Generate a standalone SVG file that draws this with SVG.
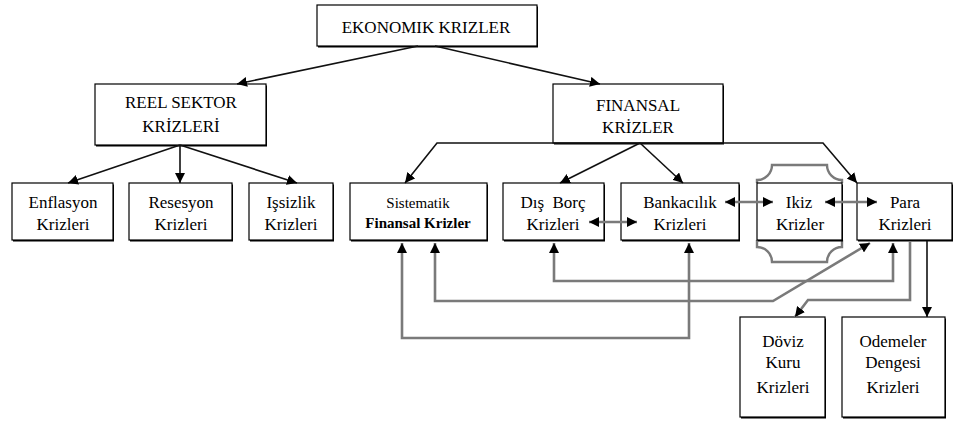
<svg xmlns="http://www.w3.org/2000/svg" width="954" height="421" viewBox="0 0 954 421" font-family="'Liberation Serif', 'Times New Roman', 'DejaVu Serif', serif">
<defs>
<style>
text{font-family:'Liberation Serif','Times New Roman','DejaVu Serif',serif;font-size:17px;fill:#000;text-anchor:middle}
.sm{font-size:15px;font-weight:bold}
.box{fill:#fff;stroke:#000;stroke-width:1.2}
.sh{fill:#000}
.blk{fill:none;stroke:#111;stroke-width:1.6}
.gry{fill:none;stroke:#7a7a7a;stroke-width:2.6}
.brk{fill:none;stroke:#7a7a7a;stroke-width:2.4}
</style>
<marker id="ah" viewBox="0 0 10 10" refX="10" refY="5" markerWidth="10" markerHeight="10" markerUnits="userSpaceOnUse" orient="auto-start-reverse">
<path d="M0,0 L10,5 L0,10 Z" fill="#000"/>
</marker>
</defs>
<g id="ekonomik">
<rect class="sh" x="318" y="6.5" width="220" height="41"/>
<rect class="box" x="317" y="5" width="220" height="41"/>
<text x="426" y="33">EKONOMIK KRIZLER</text>
</g>
<g id="reel">
<rect class="sh" x="96" y="85.5" width="171" height="61"/>
<rect class="box" x="95" y="84" width="171" height="61"/>
<text x="181" y="108">REEL SEKTOR</text>
<text x="181" y="132">KRİZLERİ</text>
</g>
<g id="finansal">
<rect class="sh" x="554" y="85.5" width="170" height="59"/>
<rect class="box" x="553" y="84" width="170" height="59"/>
<text x="638" y="111">FINANSAL</text>
<text x="638" y="133">KRİZLER</text>
</g>
<g id="enflasyon">
<rect class="sh" x="13" y="184.5" width="101" height="57"/>
<rect class="box" x="12" y="183" width="101" height="57"/>
<text x="63" y="208">Enflasyon</text>
<text x="63" y="230">Krizleri</text>
</g>
<g id="resesyon">
<rect class="sh" x="130" y="184.5" width="103" height="57"/>
<rect class="box" x="129" y="183" width="103" height="57"/>
<text x="181" y="208">Resesyon</text>
<text x="181" y="230">Krizleri</text>
</g>
<g id="issizlik">
<rect class="sh" x="250" y="184.5" width="84" height="57"/>
<rect class="box" x="249" y="183" width="84" height="57"/>
<text x="291" y="208">Işsizlik</text>
<text x="291" y="230">Krizleri</text>
</g>
<g id="sistematik">
<rect class="sh" x="351" y="184.5" width="137" height="57"/>
<rect class="box" x="350" y="183" width="137" height="57"/>
<text class="sm" x="418" y="208" font-weight="normal" style="font-weight:normal">Sistematik</text>
<text class="sm" x="418" y="228">Finansal Krizler</text>
</g>
<g id="disborc">
<rect class="sh" x="504" y="184.5" width="101" height="57"/>
<rect class="box" x="503" y="183" width="101" height="57"/>
<text x="553" y="208" xml:space="preserve">Dış  Borç</text>
<text x="553" y="230">Krizleri</text>
</g>
<g id="bankacilik">
<rect class="sh" x="622" y="184.5" width="118" height="57"/>
<rect class="box" x="621" y="183" width="118" height="57"/>
<text x="680" y="208">Bankacılık</text>
<text x="680" y="230">Krizleri</text>
</g>
<g id="ikiz">
<path class="brk" d="M757,183 V180 A15,15 0 0 0 772,165 H827 A15,15 0 0 0 842,180 V183"/>
<path class="brk" d="M757,240 V247 A15,15 0 0 1 772,262 H827 A15,15 0 0 1 842,247 V240"/>
<rect class="sh" x="758" y="184.5" width="85" height="57"/>
<rect class="box" x="757" y="183" width="85" height="57"/>
<text x="799" y="208">Ikiz</text>
<text x="800" y="230">Krizler</text>
</g>
<g id="para">
<rect class="sh" x="858" y="184.5" width="95" height="57"/>
<rect class="box" x="857" y="183" width="95" height="57"/>
<text x="905" y="208">Para</text>
<text x="905" y="230">Krizleri</text>
</g>
<g id="doviz">
<rect class="sh" x="741" y="318.5" width="85" height="100"/>
<rect class="box" x="740" y="317" width="85" height="100"/>
<text x="783" y="347">Döviz</text>
<text x="783" y="368">Kuru</text>
<text x="783" y="393">Krizleri</text>
</g>
<g id="odemeler">
<rect class="sh" x="843" y="318.5" width="103" height="100"/>
<rect class="box" x="842" y="317" width="103" height="100"/>
<text x="893" y="347">Odemeler</text>
<text x="893" y="368">Dengesi</text>
<text x="893" y="393">Krizleri</text>
</g>
<g id="connectors">
<line class="blk" x1="418" y1="46" x2="237" y2="84" marker-end="url(#ah)"/>
<line class="blk" x1="435" y1="46" x2="600" y2="84" marker-end="url(#ah)"/>
<line class="blk" x1="180" y1="145" x2="68" y2="183" marker-end="url(#ah)"/>
<line class="blk" x1="180" y1="145" x2="180" y2="183" marker-end="url(#ah)"/>
<line class="blk" x1="180" y1="145" x2="297" y2="183" marker-end="url(#ah)"/>
<path class="blk" d="M640,143 H437 L405,183" marker-end="url(#ah)"/>
<path class="blk" d="M640,143 H823 L857,183" marker-end="url(#ah)"/>
<line class="blk" x1="640" y1="143" x2="560" y2="183" marker-end="url(#ah)"/>
<line class="blk" x1="640" y1="143" x2="683" y2="183" marker-end="url(#ah)"/>
<line class="gry" x1="589" y1="222" x2="637" y2="222" marker-start="url(#ah)" marker-end="url(#ah)"/>
<line class="gry" x1="725" y1="202" x2="773" y2="202" marker-start="url(#ah)" marker-end="url(#ah)"/>
<line class="gry" x1="825" y1="202" x2="877" y2="202" marker-start="url(#ah)" marker-end="url(#ah)"/>
<path class="gry" d="M402,243 V338 H689 V243" marker-start="url(#ah)" marker-end="url(#ah)"/>
<path class="gry" d="M435,243 V301 H773 L870,243" marker-start="url(#ah)" marker-end="url(#ah)"/>
<path class="gry" d="M554,243 V281 H893 V243" marker-start="url(#ah)" marker-end="url(#ah)"/>
<path class="gry" d="M910,241 V300 H808 L795,317" marker-end="url(#ah)"/>
<line class="blk" x1="927" y1="241" x2="927" y2="317" marker-end="url(#ah)"/>
</g>
</svg>
